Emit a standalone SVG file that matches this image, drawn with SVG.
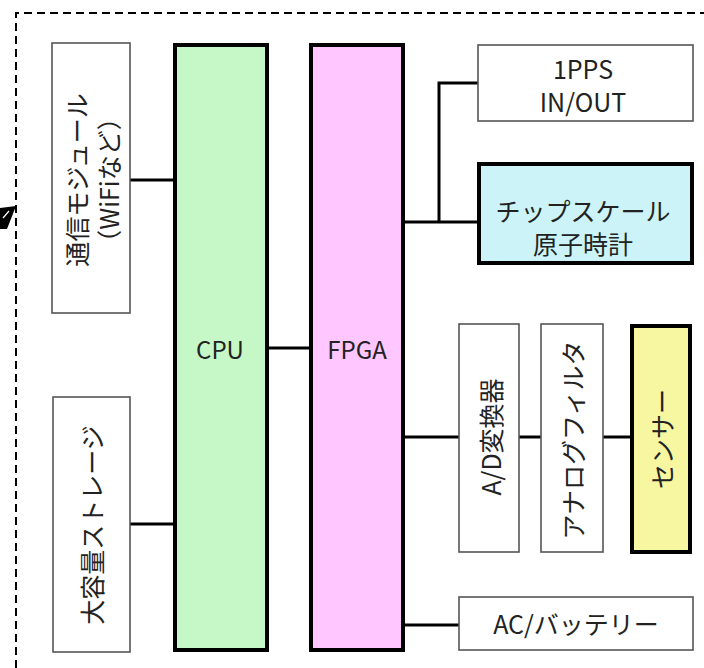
<svg xmlns="http://www.w3.org/2000/svg" width="704" height="668" viewBox="0 0 704 668">
<style>
text{font-family:"Noto Sans CJK JP","Noto Sans",sans-serif;font-size:25px;fill:#222;text-anchor:middle;dominant-baseline:central}
.lat{font-size:24px}
.thin{fill:#fff;stroke:#555;stroke-width:1.6}
.thick{stroke:#000;stroke-width:4}
.conn{stroke:#000;stroke-width:3;fill:none}
</style>
<rect width="704" height="668" fill="#fff"/>
<path d="M16,668 L16,13 L704,13" fill="none" stroke="#000" stroke-width="2" stroke-dasharray="8,5"/>
<polygon points="0,208 16,206 7,229 0,229" fill="#000"/>
<line x1="3" y1="218" x2="9" y2="211" stroke="#fff" stroke-width="1.2"/>
<g id="connectors">
<line class="conn" x1="130" y1="180" x2="175" y2="180"/>
<line class="conn" x1="130" y1="524" x2="175" y2="524"/>
<line class="conn" x1="267" y1="348" x2="310" y2="348"/>
<line class="conn" x1="403" y1="222" x2="478" y2="222"/>
<polyline class="conn" points="439,222 439,83 478,83"/>
<line class="conn" x1="403" y1="437" x2="459" y2="437"/>
<line class="conn" x1="519" y1="437" x2="541" y2="437"/>
<line class="conn" x1="603" y1="437" x2="631" y2="437"/>
<line class="conn" x1="403" y1="625" x2="459" y2="625"/>
</g>
<g id="comm">
<rect class="thin" x="52" y="43" width="78" height="270"/>
<text transform="rotate(-90 76 180)" x="76" y="180" font-size="26">通信モジュール</text>
<text transform="rotate(-90 108 180)" x="108" y="180">（WiFiなど）</text>
</g>
<g id="storage">
<rect class="thin" x="53" y="397" width="77" height="255"/>
<text transform="rotate(-90 91 525)" x="91" y="525" font-size="26">大容量ストレージ</text>
</g>
<g id="cpu">
<rect class="thick" x="175" y="45" width="92" height="605" fill="#c6f7c6"/>
<text class="lat" x="220" y="348">CPU</text>
</g>
<g id="fpga">
<rect class="thick" x="311" y="45" width="92" height="605" fill="#ffc6ff"/>
<text class="lat" x="357" y="348">FPGA</text>
</g>
<g id="pps">
<rect class="thin" x="478" y="45" width="215" height="76"/>
<text x="583" y="68" font-size="26">1PPS</text>
<text x="583" y="101" font-size="26">IN/OUT</text>
</g>
<g id="clock">
<rect class="thick" x="479" y="164" width="213" height="99" fill="#ccf4f8"/>
<text x="583" y="210">チップスケール</text>
<text x="583" y="243">原子時計</text>
</g>
<g id="adc">
<rect class="thin" x="459" y="324" width="60" height="228"/>
<text transform="rotate(-90 490 437)" x="490" y="437">A/D変換器</text>
</g>
<g id="filter">
<rect class="thin" x="541" y="324" width="62" height="228"/>
<text transform="rotate(-90 572 440)" x="572" y="440" font-size="24">アナログフィルタ</text>
</g>
<g id="sensor">
<rect class="thick" x="632" y="326" width="58" height="226" fill="#f7f7a2"/>
<text transform="rotate(-90 661 439)" x="661" y="439">センサー</text>
</g>
<g id="power">
<rect class="thin" x="459" y="597" width="234" height="53"/>
<text x="576" y="623">AC/バッテリー</text>
</g>
</svg>
